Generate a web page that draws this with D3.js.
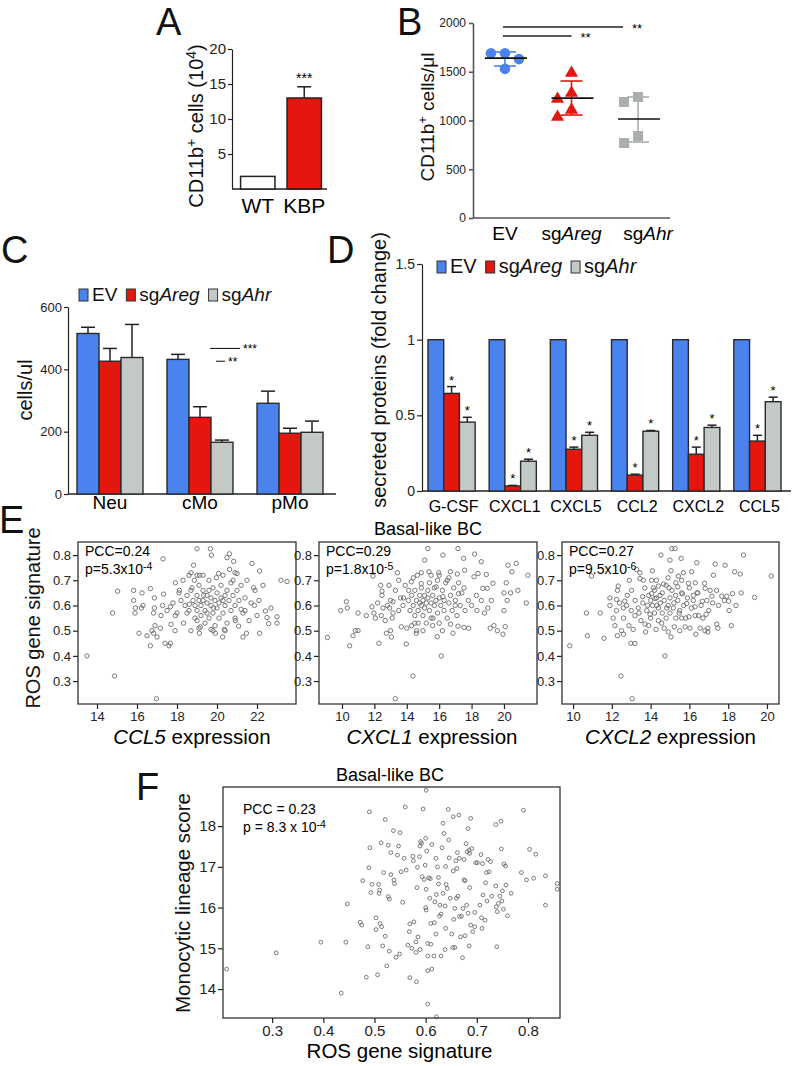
<!DOCTYPE html>
<html>
<head>
<meta charset="utf-8">
<script src="https://cdn.jsdelivr.net/npm/d3@7"></script>
<style>
  body { margin: 0; background: #fff; }
  svg { display: block; font-family: "Liberation Sans", Arial, Helvetica, sans-serif; }
</style>
</head>
<body>
<svg id="fig" width="793" height="1066"></svg>
<script>
// ---------- data ----------
// A: CD11b+ cells (10^4)
const aGroups = ["WT", "KBP"];
const aValues = [1.8, 13.0];
const aErr = [0, 1.6];

// B: CD11b+ cells/ul, individual animals
const bGroups = ["EV", "sgAreg", "sgAhr"];
const bEV = [1690, 1690, 1630, 1530];
const bAreg = [1487, 1282, 1220, 1108, 1036];
const bAhr = [1241, 1190, 841, 769];
const bMean = [1640, 1230, 1015];
const bSdHi = [1703, 1405, 1241];
const bSdLo = [1559, 1056, 779];

// C: cells/ul
const cGroups = ["Neu", "cMo", "pMo"];
const series = ["EV", "sgAreg", "sgAhr"];
const cEV = [515, 432, 291];
const cEVErr = [20, 16, 39];
const cAreg = [426, 246, 195];
const cAregErr = [41, 34, 16];
const cAhr = [438, 166, 198];
const cAhrErr = [106, 7, 36];

// D: secreted proteins (fold change)
const dGroups = ["G-CSF", "CXCL1", "CXCL5", "CCL2", "CXCL2", "CCL5"];
const dEV = [1, 1, 1, 1, 1, 1];
const dAreg = [0.645, 0.033, 0.276, 0.105, 0.243, 0.33];
const dAregErr = [0.045, 0.004, 0.014, 0.006, 0.047, 0.038];
const dAhr = [0.455, 0.197, 0.368, 0.395, 0.42, 0.59];
const dAhrErr = [0.032, 0.013, 0.02, 0.005, 0.015, 0.03];

// E: ROS gene signature vs chemokine expression (Basal-like BC)
const eTicksY = [0.3, 0.4, 0.5, 0.6, 0.7, 0.8];
const eCCL5 = [
  [13.5,0.40],[14.88,0.32],[14.78,0.57],[15.03,0.657],[16.97,0.23],[17.3,0.785],[15.83,0.66],[16.25,0.65],
  [15.83,0.62],[15.92,0.59],[16.22,0.59],[16.67,0.667],[16.87,0.63],[16.5,0.48],[16.67,0.44],[16.75,0.50],
  [16.87,0.59],[16.83,0.57],[17.0,0.475],[16.83,0.49],[17.17,0.51],[17.28,0.60],[17.33,0.645],[17.67,0.45],
  [17.67,0.595],[17.7,0.525],[17.92,0.56],[17.92,0.69],[18.12,0.66],[18.33,0.53],[18.5,0.57],[18.62,0.605],
  [18.75,0.67],[19.0,0.825],[18.83,0.76],[18.7,0.73],[18.87,0.70],[19.0,0.54],[19.17,0.515],[19.12,0.49],
  [19.13,0.72],[19.33,0.64],[19.67,0.825],[19.72,0.80],[19.5,0.57],[19.7,0.505],[19.92,0.49],[19.83,0.59],
  [19.97,0.71],[20.08,0.727],[20.28,0.475],[20.3,0.62],[20.37,0.505],[20.5,0.79],[20.62,0.805],[20.63,0.743],
  [20.8,0.70],[20.83,0.775],[20.92,0.54],[21.0,0.727],[21.08,0.518],[21.2,0.585],[21.3,0.475],[21.47,0.49],
  [21.75,0.767],[21.83,0.67],[21.87,0.60],[22.0,0.56],[22.13,0.737],[22.13,0.49],[22.42,0.578],[22.5,0.552],
  [22.58,0.528],[23.2,0.70],[23.5,0.695],[22.7,0.59],[23.0,0.555],[23.0,0.53],
  [18.2,0.62],[18.4,0.60],[18.5,0.64],[18.6,0.58],[18.7,0.66],[18.8,0.62],[18.9,0.55],[18.9,0.60],[19.0,0.64],
  [19.0,0.58],[19.1,0.62],[19.1,0.68],[19.2,0.56],[19.2,0.60],[19.3,0.66],[19.3,0.62],[19.4,0.58],[19.4,0.53],
  [19.5,0.64],[19.5,0.61],[19.6,0.66],[19.6,0.55],[19.7,0.60],[19.7,0.63],[19.8,0.57],[19.8,0.67],[19.9,0.62],
  [19.9,0.52],[20.0,0.59],[20.0,0.65],[20.1,0.61],[20.1,0.55],[20.2,0.63],[20.2,0.68],[20.3,0.57],[20.4,0.64],
  [20.4,0.60],[20.5,0.53],[20.5,0.66],[20.6,0.62],[20.7,0.58],[20.7,0.69],[20.8,0.64],[20.9,0.60],[20.9,0.55],
  [21.0,0.66],[21.1,0.62],[21.2,0.68],[21.3,0.57],[21.4,0.63],[21.5,0.70],[21.6,0.54],[21.7,0.61],[21.9,0.66],
  [22.1,0.62],[18.0,0.57],[18.1,0.65],[17.8,0.61],[17.5,0.58],[17.2,0.56],[16.9,0.52],[18.3,0.70],[18.6,0.72],
  [19.0,0.72],[19.3,0.72],[19.6,0.70],[20.3,0.72],[20.9,0.73],[19.1,0.51],[19.8,0.50],[20.4,0.50],[18.7,0.50],
  [17.9,0.50],[21.4,0.58],[22.3,0.68],[16.3,0.60],[15.9,0.57],[16.1,0.49],[17.4,0.45],[17.6,0.44]
];
const eCXCL1 = [
  [9.1,0.473],[9.92,0.58],[10.27,0.615],[10.33,0.59],[10.47,0.44],[10.68,0.48],[10.82,0.50],[10.99,0.50],
  [10.99,0.57],[11.91,0.717],[11.85,0.595],[11.97,0.57],[12.06,0.55],[12.28,0.45],[12.39,0.68],[12.47,0.657],
  [12.47,0.64],[12.53,0.59],[12.43,0.56],[12.67,0.54],[12.74,0.49],[12.94,0.59],[13.0,0.50],[13.05,0.475],
  [13.15,0.615],[13.15,0.57],[13.29,0.23],[13.42,0.73],[13.5,0.70],[13.66,0.515],[13.62,0.63],[13.77,0.60],
  [13.97,0.447],[14.12,0.66],[14.28,0.694],[14.38,0.32],[14.49,0.53],[14.59,0.49],[14.65,0.72],[14.79,0.61],
  [14.9,0.687],[15.1,0.78],[15.3,0.826],[15.37,0.734],[15.62,0.55],[15.82,0.674],[15.88,0.476],[15.97,0.73],
  [16.13,0.40],[16.23,0.635],[16.23,0.80],[16.5,0.70],[16.69,0.734],[16.7,0.526],[16.85,0.49],[16.99,0.60],
  [17.16,0.826],[17.12,0.725],[17.2,0.647],[17.16,0.518],[17.51,0.787],[17.57,0.74],[17.53,0.67],[17.53,0.513],
  [17.82,0.51],[18.19,0.804],[18.15,0.714],[18.33,0.58],[18.4,0.727],[18.6,0.774],[18.7,0.668],[18.8,0.57],
  [18.91,0.723],[18.97,0.668],[19.15,0.51],[19.32,0.688],[19.22,0.62],[19.38,0.52],[19.59,0.50],[19.94,0.486],
  [20.0,0.65],[20.08,0.516],[20.2,0.62],[20.0,0.58],[20.14,0.69],[20.25,0.76],[20.41,0.65],[20.49,0.734],
  [20.76,0.767],[20.86,0.66],[21.38,0.61],[21.48,0.72],
  [14.1,0.62],[14.2,0.58],[14.3,0.64],[14.4,0.60],[14.5,0.56],[14.5,0.66],[14.6,0.62],[14.7,0.58],[14.7,0.53],
  [14.8,0.64],[14.9,0.60],[14.9,0.67],[15.0,0.56],[15.0,0.62],[15.1,0.64],[15.1,0.59],[15.2,0.53],[15.2,0.61],
  [15.3,0.66],[15.3,0.63],[15.4,0.58],[15.4,0.69],[15.5,0.61],[15.5,0.55],[15.6,0.64],[15.7,0.60],[15.7,0.67],
  [15.8,0.62],[15.9,0.57],[15.9,0.70],[16.0,0.63],[16.0,0.53],[16.1,0.60],[16.2,0.66],[16.3,0.58],[16.3,0.62],
  [16.4,0.69],[16.5,0.55],[16.6,0.61],[16.7,0.64],[16.8,0.58],[16.9,0.67],[17.0,0.62],[17.1,0.56],[17.3,0.60],
  [17.4,0.65],[17.6,0.58],[17.8,0.62],[18.0,0.60],[18.3,0.64],[13.8,0.63],[13.5,0.58],[13.3,0.66],[13.1,0.55],
  [13.0,0.62],[12.8,0.60],[14.0,0.51],[14.3,0.52],[14.6,0.50],[15.0,0.50],[15.6,0.52],[16.2,0.50],[14.4,0.71],
  [14.9,0.73],[15.5,0.72],[16.0,0.72],[16.6,0.71],[17.2,0.69],[13.9,0.68],[12.2,0.61],[12.9,0.68],[11.5,0.56],
  [18.6,0.62],[19.0,0.59]
];
const eCXCL2 = [
  [9.83,0.44],[10.69,0.57],[10.74,0.48],[10.95,0.717],[11.6,0.47],[11.9,0.63],[12.07,0.55],[12.16,0.52],
  [12.24,0.58],[12.24,0.624],[12.29,0.66],[12.33,0.677],[12.29,0.48],[12.47,0.32],[12.5,0.50],[12.59,0.59],
  [12.6,0.486],[12.67,0.617],[12.76,0.60],[12.88,0.52],[12.98,0.45],[13.02,0.66],[13.05,0.23],[13.1,0.505],
  [13.19,0.449],[13.19,0.56],[13.28,0.743],[13.36,0.59],[13.45,0.73],[13.45,0.707],[13.5,0.54],[13.59,0.635],
  [13.62,0.70],[13.71,0.526],[13.74,0.495],[13.84,0.60],[13.97,0.565],[14.05,0.70],[14.09,0.738],[14.05,0.647],
  [14.14,0.67],[14.22,0.628],[14.28,0.505],[14.31,0.60],[14.4,0.677],[14.48,0.64],[14.53,0.80],[14.57,0.53],
  [14.66,0.685],[14.74,0.40],[14.83,0.59],[14.91,0.495],[14.95,0.67],[15.0,0.78],[15.05,0.475],[15.05,0.738],
  [15.09,0.826],[15.26,0.826],[15.17,0.59],[15.22,0.515],[15.29,0.64],[15.4,0.674],[15.43,0.717],[15.47,0.57],
  [15.57,0.787],[15.6,0.55],[15.64,0.646],[15.69,0.73],[15.78,0.515],[15.86,0.608],[15.95,0.688],[15.98,0.555],
  [16.03,0.51],[16.12,0.734],[16.2,0.64],[16.29,0.595],[16.33,0.486],[16.38,0.77],[16.43,0.65],[16.47,0.56],
  [16.55,0.51],[16.67,0.617],[16.78,0.688],[16.81,0.668],[16.86,0.565],[16.95,0.51],[16.95,0.495],[17.07,0.66],
  [17.16,0.637],[17.33,0.764],[17.24,0.72],[17.41,0.526],[17.47,0.51],[17.67,0.637],[17.84,0.76],[17.93,0.637],
  [18.02,0.617],[18.05,0.58],[18.16,0.52],[18.22,0.647],[18.33,0.734],[18.62,0.725],[18.67,0.65],[18.79,0.80],
  [19.36,0.632],[20.22,0.717],
  [13.6,0.61],[13.8,0.58],[13.9,0.64],[14.0,0.62],[14.0,0.55],[14.1,0.60],[14.2,0.66],[14.2,0.57],[14.3,0.63],
  [14.4,0.59],[14.4,0.54],[14.5,0.61],[14.6,0.65],[14.6,0.57],[14.7,0.62],[14.8,0.68],[14.8,0.55],[14.9,0.60],
  [15.0,0.63],[15.0,0.57],[15.1,0.66],[15.2,0.61],[15.3,0.55],[15.3,0.69],[15.4,0.62],[15.5,0.58],[15.6,0.65],
  [15.7,0.60],[15.8,0.55],[15.9,0.63],[16.0,0.67],[16.1,0.59],[16.2,0.62],[16.3,0.56],[16.4,0.65],[16.6,0.60],
  [16.7,0.55],[16.9,0.62],[17.0,0.58],[17.2,0.61],[17.5,0.60],[17.8,0.62],[13.4,0.57],[13.2,0.62],[13.0,0.58],
  [12.8,0.64],[12.6,0.55],[12.4,0.61],[13.7,0.67],[14.3,0.70],[14.9,0.71],[15.6,0.70],[16.3,0.69],[13.9,0.52],
  [14.7,0.51],[15.5,0.50],[12.9,0.70],[11.9,0.60],[11.4,0.57],[17.4,0.66],[18.4,0.60],[16.8,0.50]
];

// F: Monocytic lineage score vs ROS gene signature
const fTicksX = [0.3, 0.4, 0.5, 0.6, 0.7, 0.8];
const fTicksY = [14, 15, 16, 17, 18];
const fPoints = [
  [0.211,14.49],[0.308,14.89],[0.395,15.15],[0.435,13.9],[0.444,15.15],[0.447,16.09],[0.472,15.64],[0.475,15.57],
  [0.477,16.66],[0.487,15.04],[0.484,14.29],[0.489,16.98],[0.49,18.35],[0.491,17.47],[0.493,16.37],[0.495,16.57],
  [0.503,15.75],[0.503,15.46],[0.506,14.35],[0.508,16.57],[0.509,16.35],[0.51,16.43],[0.511,15.61],[0.513,17.59],
  [0.514,15.53],[0.516,15.06],[0.518,16.86],[0.521,18.16],[0.521,15.3],[0.524,14.57],[0.527,17.53],[0.527,16.27],
  [0.529,16.21],[0.529,14.93],[0.532,16.81],[0.532,17.35],[0.537,17.89],[0.538,16.68],[0.539,16.59],[0.542,14.78],
  [0.545,17.29],[0.547,17.51],[0.549,14.86],[0.55,17.84],[0.552,16.88],[0.555,16.13],[0.558,17.21],[0.56,18.47],
  [0.562,16.92],[0.565,15.08],[0.568,15.41],[0.569,15.6],[0.569,14.28],[0.573,15.0],[0.575,17.26],[0.576,17.15],
  [0.577,15.65],[0.581,14.9],[0.581,15.16],[0.582,14.18],[0.583,16.49],[0.584,16.99],[0.585,15.28],[0.588,17.25],
  [0.589,14.97],[0.589,17.51],[0.59,17.62],[0.592,17.58],[0.593,16.76],[0.595,18.42],[0.597,16.69],[0.599,17.04],
  [0.6,17.7],[0.6,16.0],[0.601,15.94],[0.601,16.45],[0.602,17.39],[0.604,14.81],[0.604,14.45],[0.604,15.12],
  [0.604,13.63],[0.606,16.73],[0.608,16.23],[0.609,16.71],[0.61,15.61],[0.61,15.1],[0.612,17.55],[0.612,14.49],
  [0.616,14.81],[0.617,15.63],[0.618,16.14],[0.62,17.21],[0.62,15.35],[0.621,16.32],[0.621,13.32],[0.623,17.0],
  [0.625,16.74],[0.625,16.58],[0.627,15.79],[0.628,16.06],[0.63,15.84],[0.63,14.81],[0.632,17.47],[0.634,18.07],
  [0.634,16.35],[0.636,17.82],[0.638,16.04],[0.638,14.97],[0.639,17.01],[0.639,15.49],[0.64,16.57],[0.642,16.47],
  [0.644,18.41],[0.645,17.66],[0.646,17.22],[0.648,16.23],[0.651,15.35],[0.653,15.02],[0.654,16.9],[0.654,18.23],
  [0.655,15.71],[0.657,15.98],[0.657,15.02],[0.659,17.15],[0.66,16.23],[0.661,16.96],[0.662,17.35],[0.663,16.28],
  [0.665,18.27],[0.666,17.21],[0.666,15.78],[0.668,15.28],[0.67,15.79],[0.672,14.77],[0.673,15.98],[0.675,17.18],
  [0.675,16.68],[0.677,15.31],[0.677,16.66],[0.679,17.57],[0.68,16.06],[0.681,17.37],[0.683,17.94],[0.683,15.86],
  [0.685,15.06],[0.685,17.41],[0.686,17.33],[0.686,16.49],[0.688,15.57],[0.688,18.19],[0.69,17.45],[0.692,15.41],
  [0.696,15.88],[0.696,15.53],[0.698,17.1],[0.701,17.1],[0.706,16.06],[0.708,17.3],[0.709,15.75],[0.71,15.49],
  [0.711,17.08],[0.712,16.31],[0.716,15.69],[0.717,16.61],[0.719,16.86],[0.72,16.16],[0.722,17.18],[0.724,16.88],
  [0.727,17.13],[0.729,16.28],[0.737,18.04],[0.737,16.53],[0.738,16.02],[0.739,15.04],[0.74,15.9],[0.742,16.1],
  [0.745,16.28],[0.747,18.12],[0.748,17.44],[0.749,16.16],[0.75,16.41],[0.752,15.96],[0.753,17.07],[0.756,17.02],
  [0.757,16.55],[0.76,15.8],[0.767,16.35],[0.787,16.86],[0.791,18.39],[0.797,16.68],[0.803,17.43],[0.811,16.72],
  [0.815,17.31],[0.834,16.78],[0.834,16.06],[0.857,16.59],[0.857,16.45],[0.601,18.88]
];

// ---------- drawing ----------
const svg = d3.select("#fig");
const INK = "#222";
const BLUE = "#4a82ee", RED = "#e4160d", GREY = "#c3c9c6", GREY_PT = "#a9afae";
const seriesColor = { EV: BLUE, sgAreg: RED, sgAhr: GREY };
const plain = d => String(d);

function styleAxis(g, size) {
  g.attr("font-family", null).attr("font-size", size);
  g.selectAll("path, line").attr("stroke", INK).attr("stroke-width", 1.2);
  g.selectAll("text").attr("fill", INK);
}

function panelLetter(label, x, y) {
  svg.append("text").attr("x", x).attr("y", y).attr("font-size", 38).attr("fill", "#111").text(label);
}

// "sgAreg" -> sg + italic Areg
function seriesText(sel, name) {
  if (name.startsWith("sg")) {
    sel.append("tspan").text("sg");
    sel.append("tspan").attr("font-style", "italic").text(name.slice(2));
  } else {
    sel.append("tspan").text(name);
  }
}

// rotated axis title, centred on (cx, cy)
function yTitle(cx, cy, size) {
  return svg.append("text")
    .attr("transform", `translate(${cx + size * 0.36},${cy}) rotate(-90)`)
    .attr("text-anchor", "middle").attr("font-size", size).attr("fill", "#111");
}

function sup(t, txt, size, up) {
  t.append("tspan").attr("dy", -up).attr("font-size", size).text(txt);
  return t;
}

function errorBar(g, x, yTop, yEnd, cap) {
  g.append("line").attr("x1", x).attr("x2", x).attr("y1", yTop).attr("y2", yEnd)
    .attr("stroke", INK).attr("stroke-width", 1.5);
  g.append("line").attr("x1", x - cap / 2).attr("x2", x + cap / 2).attr("y1", yEnd).attr("y2", yEnd)
    .attr("stroke", INK).attr("stroke-width", 1.5);
}

function legend(x, y, size) {
  const g = svg.append("g");
  let cx = x;
  series.forEach(s => {
    g.append("rect").attr("x", cx).attr("y", y - 12).attr("width", 9).attr("height", 12)
      .attr("fill", seriesColor[s]).attr("stroke", "#333").attr("stroke-width", 1);
    const t = g.append("text").attr("x", cx + 13).attr("y", y).attr("font-size", size).attr("fill", "#111");
    seriesText(t, s);
    cx += 13 + t.node().getComputedTextLength() + 9;
  });
}

// ---------- Panel A ----------
{
  panelLetter("A", 156, 35);
  const g = svg.append("g");
  const y = d3.scaleLinear().domain([0, 20]).range([189, 49]);
  const x = d3.scaleBand().domain(aGroups).range([235, 327]).paddingInner(0.26).paddingOuter(0.12);
  g.append("g").attr("transform", "translate(232,0)")
    .call(d3.axisLeft(y).tickValues([5, 10, 15, 20]).tickFormat(plain).tickSize(4).tickSizeOuter(0).tickPadding(2))
    .call(styleAxis, 15);
  g.append("line").attr("x1", 232).attr("x2", 327).attr("y1", y(0)).attr("y2", y(0))
    .attr("stroke", INK).attr("stroke-width", 1.3);
  aGroups.forEach((k, i) => {
    if (aErr[i] > 0) errorBar(g, x(k) + x.bandwidth() / 2, y(aValues[i]), y(aValues[i] + aErr[i]), 14);
    g.append("rect").attr("x", x(k)).attr("y", y(aValues[i])).attr("width", x.bandwidth())
      .attr("height", y(0) - y(aValues[i])).attr("fill", i === 0 ? "#fff" : RED)
      .attr("stroke", INK).attr("stroke-width", 1.5);
    g.append("text").attr("x", x(k) + x.bandwidth() / 2).attr("y", 213).attr("text-anchor", "middle")
      .attr("font-size", 21).text(k);
  });
  g.append("text").attr("x", x("KBP") + x.bandwidth() / 2).attr("y", y(aValues[1] + aErr[1]) - 4)
    .attr("text-anchor", "middle").attr("font-size", 14).text("***");
  const t = yTitle(196, 126, 20);
  t.append("tspan").text("CD11b");
  sup(t, "+", 14, 7);
  t.append("tspan").attr("dy", 7).text(" cells (10");
  sup(t, "4", 14, 7);
  t.append("tspan").attr("dy", 7).text(")");
}

// ---------- Panel B ----------
{
  panelLetter("B", 397, 35);
  const g = svg.append("g");
  const y = d3.scaleLinear().domain([0, 2000]).range([218, 23]);
  const x = d3.scalePoint().domain(bGroups).range([473, 670]).padding(0.48);
  g.append("g").attr("transform", "translate(473,0)")
    .call(d3.axisLeft(y).tickValues([0, 500, 1000, 1500, 2000]).tickFormat(plain).tickSize(4).tickSizeOuter(0).tickPadding(3))
    .call(styleAxis, 12)
    .call(a => a.selectAll("path, line").attr("stroke", "#555").attr("stroke-width", 1.6));
  g.append("line").attr("x1", 473).attr("x2", 670).attr("y1", y(0)).attr("y2", y(0))
    .attr("stroke", "#555").attr("stroke-width", 1.6);

  const pts = [bEV, bAreg, bAhr];
  const colors = [BLUE, RED, GREY_PT];
  bGroups.forEach((k, i) => {
    const cx = x(k), col = colors[i];
    // sd + mean
    g.append("line").attr("x1", cx).attr("x2", cx).attr("y1", y(bSdHi[i])).attr("y2", y(bSdLo[i]))
      .attr("stroke", col).attr("stroke-width", 1.6);
    [bSdHi[i], bSdLo[i]].forEach(v => g.append("line").attr("x1", cx - 11).attr("x2", cx + 11)
      .attr("y1", y(v)).attr("y2", y(v)).attr("stroke", col).attr("stroke-width", 1.6));
    // dodge points that would overlap
    const placed = [];
    pts[i].forEach(v => {
      const py = y(v);
      const off = [0, -14, 14, -28, 28].find(o => placed.every(p => Math.hypot(p[0] - o, p[1] - py) >= 11));
      placed.push([off, py]);
      const px = cx + off;
      if (i === 0) g.append("circle").attr("cx", px).attr("cy", py).attr("r", 5.3).attr("fill", col);
      else if (i === 1) g.append("path").attr("d", d3.symbol(d3.symbolTriangle, 75)())
        .attr("transform", `translate(${px},${py})`).attr("fill", col);
      else g.append("rect").attr("x", px - 5).attr("y", py - 5).attr("width", 10).attr("height", 10).attr("fill", col);
    });
    g.append("line").attr("x1", cx - 20).attr("x2", cx + 22).attr("y1", y(bMean[i])).attr("y2", y(bMean[i]))
      .attr("stroke", "#111").attr("stroke-width", 1.6);
    const t = g.append("text").attr("x", cx + (i === 2 ? 10 : 0)).attr("y", 240).attr("text-anchor", "middle")
      .attr("font-size", 19);
    seriesText(t, k);
  });
  // significance
  [[bGroups[2], 1959, -15], [bGroups[1], 1867, 0]].forEach(([k, v, dx]) => {
    g.append("line").attr("x1", x("EV") - 2).attr("x2", x(k) + dx).attr("y1", y(v)).attr("y2", y(v))
      .attr("stroke", "#222").attr("stroke-width", 1.4);
    g.append("text").attr("x", x(k) + dx + 9).attr("y", y(v) + 6).attr("font-size", 13).text("**");
  });
  const t = yTitle(427, 117, 19);
  t.append("tspan").text("CD11b");
  sup(t, "+", 13, 7);
  t.append("tspan").attr("dy", 7).text(" cells/μl");
}

// ---------- Panel C ----------
{
  panelLetter("C", 1, 263);
  legend(79, 301, 19);
  const g = svg.append("g");
  const y = d3.scaleLinear().domain([0, 600]).range([494, 307]);
  const x0 = d3.scaleBand().domain(cGroups).range([68, 332]).paddingInner(0.267).paddingOuter(0.1);
  const x1 = d3.scaleBand().domain(series).range([0, x0.bandwidth()]);
  g.append("g").attr("transform", "translate(68,0)")
    .call(d3.axisLeft(y).tickValues([0, 200, 400, 600]).tickFormat(plain).tickSize(4).tickSizeOuter(0).tickPadding(2))
    .call(styleAxis, 13);
  g.append("line").attr("x1", 68).attr("x2", 336).attr("y1", y(0)).attr("y2", y(0))
    .attr("stroke", INK).attr("stroke-width", 1.4);
  const vals = { EV: cEV, sgAreg: cAreg, sgAhr: cAhr };
  const errs = { EV: cEVErr, sgAreg: cAregErr, sgAhr: cAhrErr };
  cGroups.forEach((grp, gi) => {
    series.forEach(s => {
      const v = vals[s][gi], bx = x0(grp) + x1(s);
      errorBar(g, bx + x1.bandwidth() / 2, y(v), y(v + errs[s][gi]), 14);
      g.append("rect").attr("x", bx).attr("y", y(v)).attr("width", x1.bandwidth()).attr("height", y(0) - y(v))
        .attr("fill", seriesColor[s]).attr("stroke", "#2a2a2a").attr("stroke-width", 1.4);
    });
    g.append("text").attr("x", x0(grp) + x0.bandwidth() / 2).attr("y", 509).attr("text-anchor", "middle")
      .attr("font-size", 19).text(grp);
  });
  // significance marks next to cMo
  const sx = x0("cMo") + x1.bandwidth();
  [[467, 21, 30, "***"], [426, 27, 9, "**"]].forEach(([v, dx, len, lab]) => {
    g.append("line").attr("x1", sx + dx).attr("x2", sx + dx + len).attr("y1", y(v)).attr("y2", y(v))
      .attr("stroke", INK).attr("stroke-width", 1.1);
    g.append("text").attr("x", sx + dx + len + 3).attr("y", y(v) + 5).attr("font-size", 12).text(lab);
  });
  yTitle(25, 390, 20).text("cells/ul");
}

// ---------- Panel D ----------
{
  panelLetter("D", 327, 263);
  legend(437, 273, 20);
  const g = svg.append("g");
  const y = d3.scaleLinear().domain([0, 1.5]).range([491, 264]);
  const x0 = d3.scaleBand().domain(dGroups).range([422, 787]).paddingInner(0.229).paddingOuter(0.098);
  const x1 = d3.scaleBand().domain(series).range([0, x0.bandwidth()]);
  g.append("g").attr("transform", "translate(422,0)")
    .call(d3.axisLeft(y).tickValues([0, 0.5, 1, 1.5]).tickFormat(plain).tickSize(5).tickSizeOuter(0).tickPadding(2))
    .call(styleAxis, 14);
  g.append("line").attr("x1", 422).attr("x2", 791).attr("y1", y(0)).attr("y2", y(0))
    .attr("stroke", INK).attr("stroke-width", 1.4);
  const vals = { EV: dEV, sgAreg: dAreg, sgAhr: dAhr };
  const errs = { EV: null, sgAreg: dAregErr, sgAhr: dAhrErr };
  dGroups.forEach((grp, gi) => {
    series.forEach(s => {
      const v = vals[s][gi], bx = x0(grp) + x1(s), mid = bx + x1.bandwidth() / 2;
      if (errs[s]) errorBar(g, mid, y(v), y(v + errs[s][gi]), 9);
      g.append("rect").attr("x", bx).attr("y", y(v)).attr("width", x1.bandwidth()).attr("height", y(0) - y(v))
        .attr("fill", seriesColor[s]).attr("stroke", "#2a2a2a").attr("stroke-width", 1.4);
      if (errs[s]) g.append("text").attr("x", mid).attr("y", y(v + errs[s][gi]) - 2).attr("text-anchor", "middle")
        .attr("font-size", 13).text("*");
    });
    g.append("text").attr("x", x0(grp) + x0.bandwidth() / 2 + 2).attr("y", 512).attr("text-anchor", "middle")
      .attr("font-size", 16).text(grp);
  });
  yTitle(379, 370, 20).text("secreted proteins (fold change)");
}

// ---------- scatter helper (E, F) ----------
function scatter(o) {
  const g = svg.append("g");
  const x = d3.scaleLinear().domain(o.xDomain).range([o.left, o.right]);
  const y = d3.scaleLinear().domain(o.yDomain).range([o.bottom, o.top]);
  g.append("g").attr("transform", `translate(0,${o.bottom})`)
    .call(d3.axisBottom(x).tickValues(o.xTicks).tickFormat(plain).tickSize(5).tickSizeOuter(0).tickPadding(o.xPad))
    .call(styleAxis, o.tickSize)
    .call(a => a.select(".domain").remove())
    .call(a => a.attr("font-family", o.tickFamily));
  g.append("g").attr("transform", `translate(${o.left},0)`)
    .call(d3.axisLeft(y).tickValues(o.yTicks).tickFormat(plain).tickSize(5).tickSizeOuter(0).tickPadding(2))
    .call(styleAxis, o.tickSize)
    .call(a => a.select(".domain").remove())
    .call(a => a.attr("font-family", o.tickFamily));
  g.append("g").selectAll("circle").data(o.data).join("circle")
    .attr("cx", d => x(d[0])).attr("cy", d => y(d[1])).attr("r", o.r)
    .attr("fill", "none").attr("stroke", "#6b6b6b").attr("stroke-width", 0.9);
  g.append("rect").attr("x", o.left).attr("y", o.top).attr("width", o.right - o.left).attr("height", o.bottom - o.top)
    .attr("fill", "none").attr("stroke", "#333").attr("stroke-width", 1.3);
  // annotation: two lines, second with a superscript exponent
  g.append("text").attr("x", o.left + o.annDx).attr("y", o.top + o.annDy).attr("font-size", o.annSize).text(o.pcc);
  const a2 = g.append("text").attr("x", o.left + o.annDx).attr("y", o.top + o.annDy + o.annSize + 4).attr("font-size", o.annSize);
  a2.append("tspan").text(o.p[0]);
  a2.append("tspan").attr("dy", -4).attr("font-size", o.annSize * 0.75).text(o.p[1]);
  // x title
  const t = g.append("text").attr("x", (o.left + o.right) / 2 + (o.xTitleDx || 0)).attr("y", o.xTitleY)
    .attr("text-anchor", "middle").attr("font-size", o.titleSize);
  if (o.xItalic) t.append("tspan").attr("font-style", "italic").text(o.xItalic);
  t.append("tspan").text(o.xText);
  return g;
}

// ---------- Panel E ----------
{
  panelLetter("E", -1, 533);
  const narrow = '"Liberation Sans Narrow", "Liberation Sans", Arial, sans-serif';
  const common = {
    top: 542, bottom: 704, yDomain: [0.209, 0.852], yTicks: eTicksY,
    tickSize: 13, tickFamily: narrow, xPad: 3, r: 2.2, annDx: 7, annDy: 14, annSize: 14,
    titleSize: 20.5, xTitleY: 744, xText: " expression"
  };
  scatter(Object.assign({}, common, {
    left: 78, right: 296, xDomain: [13.05, 23.95], xTicks: [14, 16, 18, 20, 22], data: eCCL5,
    pcc: "PCC=0.24", p: ["p=5.3x10", "-4"], xItalic: "CCL5", xTitleDx: 5
  }));
  scatter(Object.assign({}, common, {
    left: 319, right: 537, xDomain: [8.58, 22.04], xTicks: [10, 12, 14, 16, 18, 20], data: eCXCL1,
    pcc: "PCC=0.29", p: ["p=1.8x10", "-5"], xItalic: "CXCL1", xTitleDx: 4
  }));
  scatter(Object.assign({}, common, {
    left: 562, right: 779, xDomain: [9.43, 20.62], xTicks: [10, 12, 14, 16, 18, 20], data: eCXCL2,
    pcc: "PCC=0.27", p: ["p=9.5x10", "-6"], xItalic: "CXCL2", xTitleDx: 0
  }));
  svg.append("text").attr("x", 428).attr("y", 535).attr("text-anchor", "middle").attr("font-size", 18)
    .text("Basal-like BC");
  yTitle(33, 618, 20).text("ROS gene signature");
}

// ---------- Panel F ----------
{
  panelLetter("F", 136, 800);
  scatter({
    left: 223, right: 560, top: 787, bottom: 1018,
    xDomain: [0.204, 0.8625], yDomain: [13.29, 18.96], xTicks: fTicksX, yTicks: fTicksY, data: fPoints,
    tickSize: 15, tickFamily: null, xPad: 2, r: 1.9, annDx: 20, annDy: 27, annSize: 14,
    pcc: "PCC = 0.23", p: ["p = 8.3 x 10", "-4"],
    titleSize: 20.5, xTitleY: 1058, xItalic: null, xText: "ROS gene signature", xTitleDx: 8
  });
  svg.append("text").attr("x", 390).attr("y", 781).attr("text-anchor", "middle").attr("font-size", 18)
    .text("Basal-like BC");
  yTitle(183, 903, 20.5).text("Monocytic lineage score");
}
</script>
</body>
</html>
